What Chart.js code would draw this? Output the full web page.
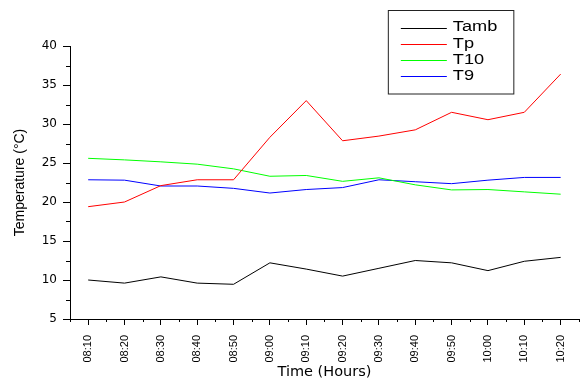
<!DOCTYPE html>
<html>
<head>
<meta charset="utf-8">
<script src="https://cdn.jsdelivr.net/npm/chart.js@4/dist/chart.umd.min.js"></script>
<style>
  html, body { margin: 0; padding: 0; background: #fff; }
  #wrap { width: 584px; height: 381px; position: relative; }
</style>
</head>
<body>
<div id="wrap"><canvas id="c" width="584" height="381"></canvas></div>
<script>
const timeLabels = ['08:10','08:20','08:30','08:40','08:50','09:00','09:10','09:20','09:30','09:40','09:50','10:00','10:10','10:20'];
const tamb = [10.0, 9.6, 10.4, 9.6, 9.45, 12.2, 11.4, 10.5, 11.5, 12.5, 12.2, 11.2, 12.4, 12.9];
const tp   = [19.4, 20.0, 22.1, 22.85, 22.85, 28.3, 33.0, 27.85, 28.45, 29.25, 31.5, 30.55, 31.5, 36.4];
const t10  = [25.6, 25.4, 25.15, 24.85, 24.25, 23.3, 23.4, 22.65, 23.1, 22.2, 21.55, 21.6, 21.3, 21.0];
const t9   = [22.85, 22.8, 22.05, 22.05, 21.75, 21.15, 21.6, 21.85, 22.85, 22.6, 22.35, 22.8, 23.15, 23.15];
const seriesNames = ['Tamb', 'Tp', 'T10', 'T9'];
const yTicks = { min: 5, max: 40, step: 5 };

const colors = ['#000000', '#ff0000', '#00ff00', '#0000ff'];
const values = [tamb, tp, t10, t9];

const minorTicks = {
  id: 'minorTicks',
  afterDraw(chart) {
    const ctx = chart.ctx;
    const x = chart.scales.x, y = chart.scales.y;
    ctx.save();
    ctx.strokeStyle = '#000';
    ctx.lineWidth = 1;
    ctx.beginPath();
    for (let v = yTicks.min + yTicks.step / 2; v < yTicks.max; v += yTicks.step) {
      const py = Math.round(y.getPixelForValue(v)) + 0.5;
      ctx.moveTo(y.right - 4, py);
      ctx.lineTo(y.right, py);
    }
    for (let i = 0; i <= timeLabels.length; i++) {
      const px = Math.round(x.getPixelForValue(i - 0.5)) + 0.5;
      ctx.moveTo(px, x.top);
      ctx.lineTo(px, x.top + 3);
    }
    ctx.stroke();
    ctx.restore();
  }
};

const boxLegend = {
  id: 'boxLegend',
  afterDraw(chart) {
    const ctx = chart.ctx;
    const ca = chart.chartArea;
    const left = ca.right - 190.5, top = 10.5, w = 125.5, h = 83.5;
    ctx.save();
    ctx.strokeStyle = '#222';
    ctx.lineWidth = 1;
    ctx.strokeRect(left, top, w, h);
    ctx.font = '14px "Liberation Sans", Arial, sans-serif';
    ctx.textBaseline = 'middle';
    ctx.fillStyle = '#000';
    chart.data.datasets.forEach((ds, i) => {
      const yy = 27.5 + i * 16.2;
      ctx.strokeStyle = ds.borderColor;
      ctx.beginPath();
      ctx.moveTo(left + 12.5, Math.round(yy) + 0.5);
      ctx.lineTo(left + 58.5, Math.round(yy) + 0.5);
      ctx.stroke();
      ctx.save();
      ctx.translate(left + 64.5, yy);
      ctx.scale(1.3, 1);
      ctx.fillText(ds.label, 0, 0);
      ctx.restore();
    });
    ctx.restore();
  }
};

new Chart(document.getElementById('c'), {
  type: 'line',
  data: {
    labels: timeLabels,
    datasets: seriesNames.map((name, i) => ({
      label: name,
      data: values[i],
      borderColor: colors[i],
      backgroundColor: colors[i],
      borderWidth: 1,
      pointRadius: 0,
      tension: 0,
      fill: false
    }))
  },
  options: {
    responsive: false,
    animation: false,
    devicePixelRatio: 1,
    layout: { padding: { top: 46, right: 4, left: 0, bottom: 0 } },
    plugins: { legend: { display: false }, tooltip: { enabled: false } },
    scales: {
      x: {
        type: 'category',
        offset: true,
        afterFit(scale) { scale.height = 62; },
        grid: { drawOnChartArea: false, drawTicks: true, tickLength: 6, tickColor: '#000', offset: false },
        border: { display: true, color: '#000', width: 1 },
        ticks: {
          autoSkip: false, minRotation: 90, maxRotation: 90, padding: 10,
          color: '#000', font: { family: '"Liberation Sans", Arial, sans-serif', size: 11 }
        },
        title: {
          display: true, text: 'Time (Hours)', color: '#000',
          font: { family: '"DejaVu Sans", sans-serif', size: 14.5 },
          padding: { top: 0, bottom: 0 }
        }
      },
      y: {
        min: yTicks.min, max: yTicks.max,
        afterFit(scale) { scale.width = 70; },
        grid: { drawOnChartArea: false, drawTicks: true, tickLength: 7, tickColor: '#000' },
        border: { display: true, color: '#000', width: 1 },
        ticks: {
          stepSize: yTicks.step, padding: 6, color: '#000',
          font: { family: '"DejaVu Sans", sans-serif', size: 12 }
        },
        title: {
          display: true, text: 'Temperature (°C)', color: '#000',
          font: { family: '"Liberation Sans", Arial, sans-serif', size: 14 },
          padding: { top: 12, bottom: 0 }
        }
      }
    }
  },
  plugins: [minorTicks, boxLegend]
});
</script>
</body>
</html>
